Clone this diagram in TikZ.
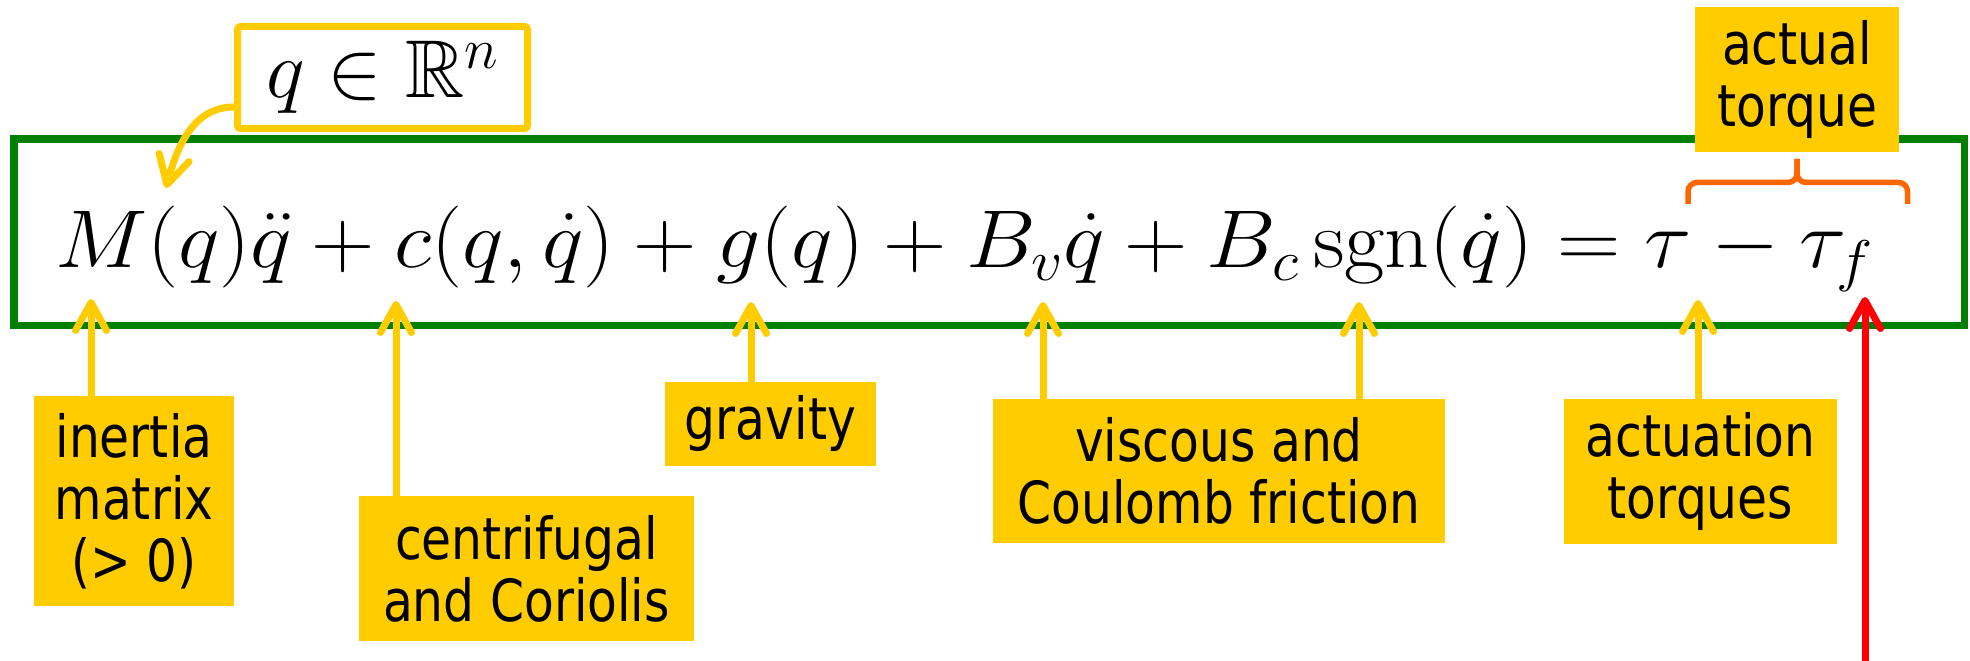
\RequirePackage{fix-cm}
\documentclass[tikz,border=0pt]{standalone}
\usepackage{amsmath,amssymb}
\usepackage{fontspec}
\newfontfamily\lblfont[FakeStretch=0.84]{DejaVu Sans}
\usetikzlibrary{arrows.meta,positioning}

\definecolor{lblyellow}{RGB}{255,204,0}
\definecolor{eqgreen}{RGB}{0,128,0}
\definecolor{braceorange}{RGB}{255,102,0}

\tikzset{
    lbl/.style={fill=lblyellow, inner sep=0pt, align=center,
        font=\lblfont\fontsize{58}{62}\selectfont},
    ptr/.style={draw=lblyellow, line width=7pt,
        -{Straight Barb[length=28pt,width=31pt,round]}},
    eqfont/.style={font=\fontsize{82}{96}\selectfont},
    bracearm/.style={draw=braceorange, line width=5.5pt, rounded corners=9pt}
}

\begin{document}
\begin{tikzpicture}[x=1pt,y=1pt]
    \useasboundingbox (0,0) rectangle (1970,661);

    % Equation frame
    \node[draw=eqgreen, line width=7.5pt, minimum width=1950.5pt,
          minimum height=186.5pt] (eqbox) at (989.25,428.75) {};
    \node[eqfont, anchor=base west, inner sep=0pt] (eq) at (55,393)
        {\scalebox{1.07}[1]{$M(q)\ddot{q} + c(q,\dot{q}) + g(q) + B_v\dot{q}
         + B_c\operatorname{sgn}(\dot{q}) = \tau - \tau_f$}};

    % Configuration space
    \node[draw=lblyellow, line width=7pt, rounded corners=3pt, eqfont,
          minimum width=290pt, minimum height=102pt, inner sep=0pt]
        (qbox) at (382.5,583.5) {$q \in \mathbb{R}^n$};
    \coordinate (tipq) at (166,473);
    \draw[ptr] ([yshift=-29.5pt]qbox.west) to[out=180,in=75] (tipq);

    % Arrow tips on the terms
    \coordinate (tipM)    at (91,362);
    \coordinate (tipc)    at (396,360);
    \coordinate (tipg)    at (751,359);
    \coordinate (tipBv)   at (1043,359);
    \coordinate (tipsgn)  at (1359,359);
    \coordinate (tiptau)  at (1698,361);
    \coordinate (tiptauf) at (1865,364);
    \coordinate (redfoot) at (1865,0);

    % Labels below
    \node[lbl, minimum width=200pt, minimum height=210pt] (inertia)
        at (134,160) {inertia\\matrix\\(> 0)};
    \node[lbl, minimum width=335pt, minimum height=145pt] (centri)
        at (526.5,92.5) {centrifugal\\and Coriolis};
    \node[lbl, minimum width=211pt, minimum height=84pt] (gravity)
        at (770.5,237) {gravity};
    \node[lbl, minimum width=452pt, minimum height=144pt] (friction)
        at (1219,190) {viscous and\\Coulomb friction};
    \node[lbl, minimum width=273pt, minimum height=145pt] (actuation)
        at (1700.5,189.5) {actuation\\torques};

    \draw[ptr] (inertia.north -| tipM) -- (tipM);
    \draw[ptr] (centri.north -| tipc) -- (tipc);
    \draw[ptr] (gravity.north -| tipg) -- (tipg);
    \draw[ptr] (friction.north -| tipBv) -- (tipBv);
    \draw[ptr] (friction.north -| tipsgn) -- (tipsgn);
    \draw[ptr] (actuation.north -| tiptau) -- (tiptau);

    % Actual torque with brace
    \node[lbl, minimum width=204pt, minimum height=145pt] (actual)
        at (1797,581.5) {actual\\torque};
    \coordinate (brL) at (1688,457);
    \coordinate (brR) at (1907.5,457);
    \coordinate (brM) at (1797,478.5);
    \coordinate (brT) at (1797,502);
    \draw[bracearm] (brL) |- (brM) -- (brT);
    \draw[bracearm] (brR) |- (brM) -- (brT);

    % Friction torque input
    \draw[ptr, draw=red] (redfoot) -- (tiptauf);

\end{tikzpicture}
\end{document}
